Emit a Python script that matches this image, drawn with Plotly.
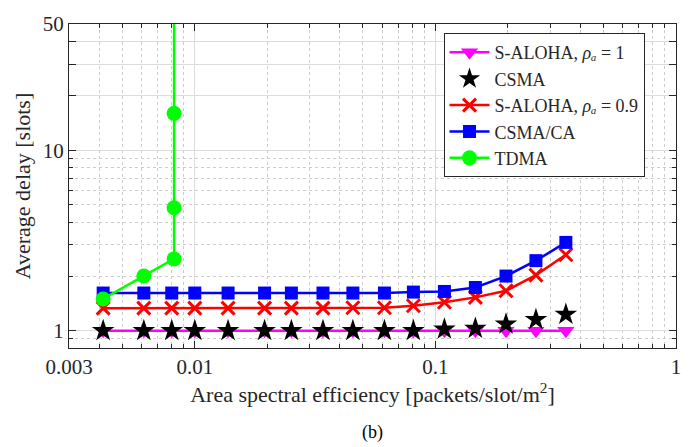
import plotly.graph_objects as go

x_common = [0.00416, 0.00614, 0.00802, 0.0100, 0.01375, 0.0195, 0.0252, 0.0341,
            0.0454, 0.0614, 0.0810, 0.109, 0.1466, 0.1965, 0.2617, 0.3485]
y_saloha1 = [1.0] * 16
y_csma = [1.0, 1.0, 1.0, 1.0, 1.0, 1.0, 1.0, 1.0,
          1.0, 1.0, 1.0, 1.02, 1.03, 1.087, 1.153, 1.232]
y_saloha09 = [1.334, 1.334, 1.334, 1.334, 1.334, 1.334, 1.334, 1.334,
              1.34, 1.34, 1.374, 1.437, 1.53, 1.664, 2.033, 2.635]
y_csmaca = [1.617, 1.617, 1.617, 1.617, 1.617, 1.617, 1.617, 1.617,
            1.617, 1.617, 1.637, 1.65, 1.735, 2.008, 2.444, 3.085]
x_tdma = [0.00416, 0.00614, 0.0082, 0.0082, 0.0082, 0.0082]
y_tdma = [1.5, 2.008, 2.5, 4.8, 16.0, 120.0]

x_ticks = [0.003, 0.01, 0.1, 1]
x_ticktext = ["0.003", "0.01", "0.1", "1"]
y_ticks = [1, 10, 20, 30, 40, 50]
y_ticktext = ["1", "10", "", "", "", "50"]
x_minor = [0.004, 0.005, 0.006, 0.007, 0.008, 0.009,
           0.02, 0.03, 0.04, 0.05, 0.06, 0.07, 0.08, 0.09,
           0.2, 0.3, 0.4, 0.5, 0.6, 0.7, 0.8, 0.9]
y_minor = [0.9, 2, 3, 4, 5, 6, 7, 8, 9]

FONT = "Liberation Serif"
LW = 2.5

fig = go.Figure()
fig.add_trace(go.Scatter(
    x=x_common, y=y_saloha1, mode="lines+markers",
    name="S-ALOHA, <i>ρₐ</i> = 1",
    line=dict(color="#FF00FF", width=LW),
    marker=dict(symbol="triangle-down", size=15, color="#FF00FF")))
fig.add_trace(go.Scatter(
    x=x_common, y=y_csma, mode="markers", name="CSMA",
    marker=dict(symbol="star", size=17, color="black")))
fig.add_trace(go.Scatter(
    x=x_common, y=y_saloha09, mode="lines+markers",
    name="S-ALOHA, <i>ρₐ</i> = 0.9",
    line=dict(color="#FF0000", width=LW),
    marker=dict(symbol="x-thin", size=13, color="#FF0000",
                line=dict(color="#FF0000", width=3))))
fig.add_trace(go.Scatter(
    x=x_common, y=y_csmaca, mode="lines+markers", name="CSMA/CA",
    line=dict(color="#0000FF", width=LW),
    marker=dict(symbol="square", size=13, color="#0000FF")))
fig.add_trace(go.Scatter(
    x=x_tdma, y=y_tdma, mode="lines+markers", name="TDMA",
    line=dict(color="#00FF00", width=LW),
    marker=dict(symbol="circle", size=15, color="#00FF00")))

axis_common = dict(
    showline=True, linecolor="#262626", linewidth=1, mirror="ticks",
    ticks="inside", ticklen=7, tickcolor="#262626", tickwidth=1,
    showgrid=True, gridcolor="#dcdcdc", gridwidth=1, zeroline=False,
    tickfont=dict(family=FONT, size=21, color="#262626"),
)

fig.update_xaxes(
    type="log", range=[-2.5229, 0],
    tickmode="array", tickvals=x_ticks, ticktext=x_ticktext,
    minor=dict(tickmode="array", tickvals=x_minor, ticks="inside", ticklen=4,
               tickcolor="#262626", showgrid=True, gridcolor="#cccccc",
               griddash="dot", gridwidth=1),
    title=dict(text="Area spectral efficiency [packets/slot/m<sup>2</sup>]",
               font=dict(family=FONT, size=22, color="#262626"), standoff=5),
    **axis_common)
fig.update_yaxes(
    type="log", range=[-0.0957, 1.69897],
    tickmode="array", tickvals=y_ticks, ticktext=y_ticktext,
    minor=dict(tickmode="array", tickvals=y_minor, ticks="inside", ticklen=4,
               tickcolor="#262626", showgrid=True, gridcolor="#cccccc",
               griddash="dot", gridwidth=1),
    title=dict(text="Average delay [slots]",
               font=dict(family=FONT, size=22, color="#262626"), standoff=6),
    **axis_common)

fig.add_annotation(text="(b)", x=0.5, y=-0.262, xref="paper", yref="paper",
                   showarrow=False, xanchor="center", yanchor="middle",
                   font=dict(family=FONT, size=18, color="black"))

fig.update_layout(
    width=693, height=447,
    margin=dict(l=69, r=16, t=17, b=99),
    paper_bgcolor="white", plot_bgcolor="white",
    font=dict(family=FONT, size=21, color="#262626"),
    legend=dict(x=0.617, y=0.972, xanchor="left", yanchor="top",
                bgcolor="white", bordercolor="#262626", borderwidth=1,
                font=dict(family=FONT, size=18, color="#262626"),
                itemwidth=40, tracegroupgap=0),
    showlegend=True,
)

fig.write_html("out.html")
